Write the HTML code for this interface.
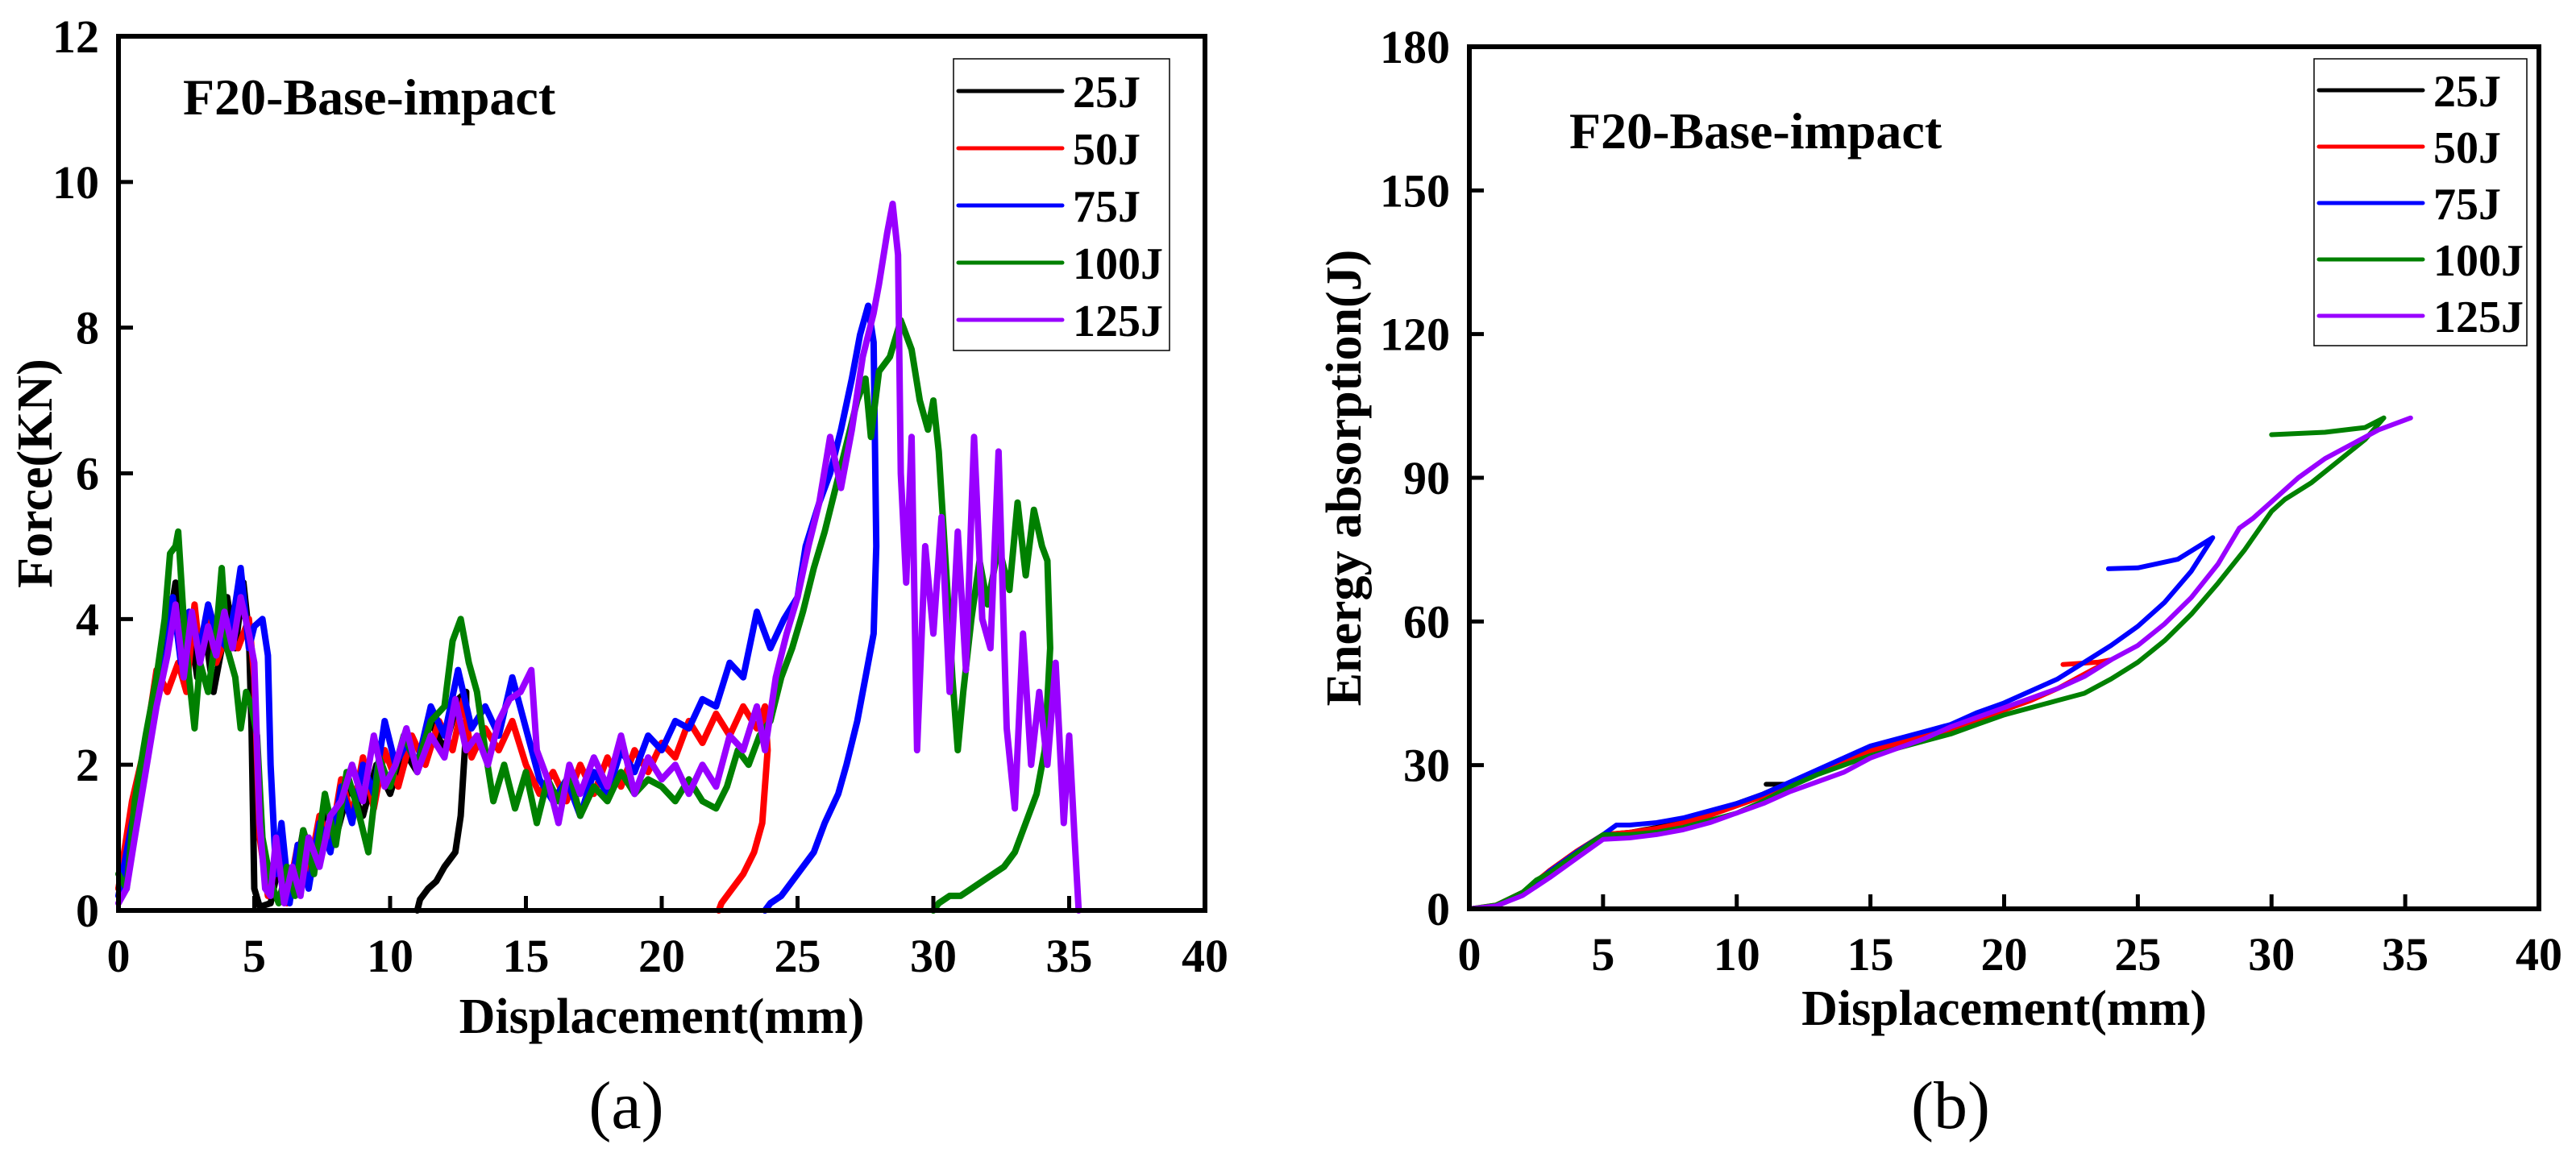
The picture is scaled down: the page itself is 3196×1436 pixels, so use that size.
<!DOCTYPE html>
<html><head><meta charset="utf-8">
<style>
html,body{margin:0;padding:0;background:#fff;}
svg{display:block;}
text{font-family:"Liberation Serif","DejaVu Serif",serif;}
</style></head>
<body>
<svg id="fig" width="3196" height="1436" viewBox="0 0 3196 1436" xmlns="http://www.w3.org/2000/svg">
<g id="pa"></g>
<g id="pb"></g>
</svg>
<script>
const seriesNames = ["25J","50J","75J","100J","125J"];
const seriesColors = ["#000000","#ff0000","#0000ff","#008000","#9900ff"];
const xTicks = [0,5,10,15,20,25,30,35,40];
const forceTicks = [0,2,4,6,8,10,12];
const energyTicks = [0,30,60,90,120,150,180];

const force25 = [[0,0.3],[0.5,1.2],[1,2.2],[1.5,3.2],[1.8,3.8],[2.1,4.5],[2.3,3.6],[2.6,4.0],[2.9,3.2],[3.2,3.8],[3.5,3.0],[3.8,3.6],[4.0,4.3],[4.3,3.6],[4.6,4.5],[4.8,3.8],[4.9,2.5],[5.0,0.3],[5.2,0.05],[5.6,0.1],[6.0,0.8],[6.4,0.2],[6.8,1.1],[7.2,0.6],[7.6,1.4],[8,1.0],[8.5,1.7],[9,1.3],[9.5,2.0],[10,1.6],[10.5,2.2],[11,1.9],[11.5,2.6],[12,2.2],[12.5,2.9],[12.8,3.0],[12.8,2.5],[12.6,1.3],[12.4,0.8],[12.0,0.6],[11.7,0.4],[11.4,0.3],[11.1,0.15],[11.0,0]];
const force50 = [[0,0.3],[0.5,1.5],[1,2.3],[1.4,3.3],[1.8,3.0],[2.2,3.4],[2.5,3.0],[2.8,4.2],[3.0,3.5],[3.3,4.0],[3.6,3.4],[4,3.8],[4.4,3.6],[4.8,4.0],[5.0,3.2],[5.2,1.0],[5.5,0.2],[5.9,0.8],[6.2,0.1],[6.6,0.9],[7,0.5],[7.4,1.3],[7.8,0.9],[8.2,1.8],[8.6,1.3],[9.0,2.1],[9.4,1.4],[9.8,2.2],[10.3,1.7],[10.8,2.4],[11.3,2.0],[11.8,2.6],[12.3,2.2],[12.7,2.9],[13.0,2.1],[13.5,2.5],[14,2.2],[14.5,2.6],[15,2.0],[15.5,1.6],[16,1.9],[16.5,1.5],[17,2.0],[17.5,1.6],[18,2.1],[18.5,1.7],[19,2.2],[19.5,1.9],[20,2.3],[20.5,2.1],[21,2.6],[21.5,2.3],[22,2.7],[22.5,2.4],[23,2.8],[23.5,2.5],[23.8,2.8],[23.9,2.2],[23.7,1.2],[23.4,0.8],[23,0.5],[22.6,0.3],[22.2,0.1],[22.1,0]];
const force75 = [[0,0.2],[0.5,1.2],[1,2.2],[1.5,3.0],[1.8,3.6],[2.0,4.3],[2.3,3.4],[2.6,4.1],[3,3.6],[3.3,4.2],[3.6,3.8],[4,3.6],[4.3,4.2],[4.5,4.7],[4.8,3.6],[5.0,3.9],[5.3,4.0],[5.5,3.5],[5.6,2.0],[5.8,0.5],[6.0,1.2],[6.3,0.1],[6.6,0.9],[7,0.3],[7.4,1.2],[7.8,0.8],[8.2,1.7],[8.6,1.2],[9.0,2.0],[9.4,1.6],[9.8,2.6],[10.2,2.0],[10.6,2.3],[11,2.0],[11.5,2.8],[12,2.4],[12.5,3.3],[13,2.5],[13.5,2.8],[14,2.4],[14.5,3.2],[15,2.5],[15.5,1.8],[16,1.5],[16.5,1.8],[17,1.3],[17.5,1.9],[18,1.6],[18.5,2.2],[19,1.9],[19.5,2.4],[20,2.2],[20.5,2.6],[21,2.5],[21.5,2.9],[22,2.8],[22.5,3.4],[23,3.2],[23.5,4.1],[24,3.6],[24.5,4.0],[25,4.3],[25.3,5.0],[25.8,5.6],[26.2,6.0],[26.6,6.6],[27,7.3],[27.3,7.9],[27.6,8.3],[27.8,7.8],[27.9,5.0],[27.8,3.8],[27.5,3.2],[27.2,2.6],[26.8,2.0],[26.5,1.6],[26,1.2],[25.6,0.8],[25.2,0.6],[24.8,0.4],[24.4,0.2],[24,0.1],[23.8,0]];
const force100 = [[0,0.5],[0.3,0.3],[0.6,1.5],[1,2.4],[1.4,3.2],[1.7,4.0],[1.9,4.9],[2.1,5.0],[2.2,5.2],[2.4,4.0],[2.6,3.2],[2.8,2.5],[3.0,3.4],[3.3,3.0],[3.6,3.8],[3.8,4.7],[4.0,3.6],[4.3,3.2],[4.5,2.5],[4.7,3.0],[4.9,2.8],[5.1,2.4],[5.3,1.0],[5.6,0.4],[5.9,0.1],[6.2,0.6],[6.5,0.2],[6.8,1.1],[7.2,0.5],[7.6,1.6],[8.0,0.9],[8.4,1.9],[8.8,1.4],[9.2,0.8],[9.6,2.1],[10,1.7],[10.5,2.4],[11,2.0],[11.5,2.6],[12,2.8],[12.3,3.7],[12.6,4.0],[12.9,3.4],[13.2,3.0],[13.5,2.2],[13.8,1.5],[14.2,2.0],[14.6,1.4],[15,1.9],[15.4,1.2],[15.8,1.8],[16.2,1.5],[16.6,1.9],[17,1.3],[17.5,1.7],[18,1.5],[18.5,1.9],[19,1.6],[19.5,1.8],[20,1.7],[20.5,1.5],[21,1.8],[21.5,1.5],[22,1.4],[22.4,1.7],[22.8,2.2],[23.2,2.0],[23.6,2.4],[24,2.6],[24.4,3.2],[24.8,3.6],[25.2,4.1],[25.6,4.7],[26,5.2],[26.4,5.8],[26.8,6.4],[27.2,7.0],[27.5,7.3],[27.7,6.5],[28,7.4],[28.4,7.6],[28.8,8.1],[29.2,7.7],[29.5,7.0],[29.8,6.6],[30.0,7.0],[30.2,6.3],[30.5,4.5],[30.7,3.2],[30.9,2.2],[31.1,3.0],[31.4,4.0],[31.7,4.8],[32,4.2],[32.4,5.0],[32.8,4.4],[33.1,5.6],[33.4,4.6],[33.7,5.5],[34,5.0],[34.2,4.8],[34.3,3.6],[34.1,2.2],[33.8,1.6],[33.4,1.2],[33,0.8],[32.6,0.6],[32.2,0.5],[31.8,0.4],[31.4,0.3],[31,0.2],[30.6,0.2],[30.2,0.1],[30,0]];
const force125 = [[0,0.1],[0.3,0.3],[0.6,1.0],[1,1.9],[1.4,2.8],[1.8,3.5],[2.1,4.2],[2.4,3.2],[2.7,4.1],[3.0,3.4],[3.3,3.9],[3.6,3.5],[3.9,4.1],[4.2,3.6],[4.5,4.3],[4.8,3.8],[5.0,3.4],[5.2,1.2],[5.4,0.3],[5.6,0.2],[5.8,1.0],[6.1,0.1],[6.4,0.6],[6.7,0.2],[7.0,1.0],[7.4,0.6],[7.8,1.3],[8.2,1.5],[8.6,2.0],[9,1.5],[9.4,2.4],[9.8,1.7],[10.2,2.0],[10.6,2.5],[11,1.9],[11.5,2.4],[12,2.1],[12.4,2.9],[12.8,2.2],[13.2,2.4],[13.6,2.0],[14,2.6],[14.4,2.9],[14.8,3.0],[15.2,3.3],[15.4,2.2],[15.8,1.8],[16.2,1.2],[16.6,2.0],[17,1.6],[17.5,2.1],[18,1.7],[18.5,2.4],[19,1.6],[19.5,2.1],[20,1.8],[20.5,2.0],[21,1.6],[21.5,2.0],[22,1.7],[22.5,2.4],[23,2.2],[23.5,2.8],[23.8,2.2],[24.2,3.2],[24.6,3.8],[25,4.3],[25.4,5.0],[25.8,5.6],[26.2,6.5],[26.6,5.8],[27.0,6.6],[27.4,7.6],[27.8,8.2],[28.0,8.6],[28.3,9.3],[28.5,9.7],[28.7,9.0],[28.8,6.0],[29,4.5],[29.2,6.5],[29.4,2.2],[29.7,5.0],[30,3.8],[30.3,5.4],[30.6,3.0],[30.9,5.2],[31.2,3.3],[31.5,6.5],[31.8,4.0],[32.1,3.6],[32.4,6.3],[32.7,2.5],[33,1.4],[33.3,3.8],[33.6,2.0],[33.9,3.0],[34.2,2.0],[34.5,3.4],[34.8,1.2],[35,2.4],[35.2,1.0],[35.35,0]];

const energy25 = [[0,0],[1,0.5],[2,3],[3,8],[4,12],[5,15.5],[6,16],[7,17],[8,18.5],[9,20],[10,22],[11,24],[11.8,26],[11.1,26]];
const energy50 = [[0,0],[1,0.8],[2,3.5],[3,8],[4,12],[5,15.5],[6,16],[7,16.8],[8,18],[9,19.5],[10,21.5],[11,23.5],[12,26],[13,28.5],[14,31],[15,33],[16,34.5],[17,36],[18,37.5],[19,39.5],[20,41.5],[21,43.5],[22,46],[23,49],[24,52],[23.5,51.5],[22.2,51]];
const energy75 = [[0,0],[1,0.6],[2,3.2],[3,7.8],[4,11.8],[5,15.5],[5.5,17.5],[6,17.5],[7,18],[8,19],[9,20.5],[10,22],[11,24],[12,26.5],[13,29],[14,31.5],[15,34],[16,35.5],[17,37],[18,38.5],[19,41],[20,43],[21,45.5],[22,48],[23,51.5],[24,55],[25,59],[26,64],[27,70.5],[27.8,77.5],[26.5,73],[25,71.2],[23.9,71]];
const energy100 = [[0,0],[1,0.8],[2,3.5],[2.5,6],[3,7.5],[4,11.5],[5,15.5],[6,15.5],[7,16],[8,17],[9,18.5],[10,20],[11,22.5],[12,25.5],[13,28],[14,30],[15,32],[16,33.5],[17,35],[18,36.5],[19,38.5],[20,40.5],[21,42],[22,43.5],[23,45],[24,48],[25,51.5],[26,56],[27,61.5],[28,68],[29,75],[30,83],[30.5,85.5],[31.5,89],[32.5,93.5],[33.5,98],[34.2,102.5],[33.5,100.5],[32,99.5],[30,99]];
const energy125 = [[0,0],[1,0.6],[2,2.8],[3,6.5],[4,10.5],[5,14.5],[6,14.8],[7,15.5],[8,16.5],[9,18],[10,20],[11,22],[12,24.5],[13,26.5],[14,28.5],[15,31.5],[16,33.5],[17,35.5],[18,38],[19,40],[20,42],[21,44],[22,46],[23,48.5],[24,52],[25,55],[26,59.5],[27,65],[28,72],[28.8,79.5],[29.3,81.5],[30,85],[31,90],[32,94],[33,97],[34,100],[35.2,102.5]];

const forceSeries = [force25, force50, force75, force100, force125];
const energySeries = [energy25, energy50, energy75, energy100, energy125];

const NS = "http://www.w3.org/2000/svg";
function mk(parent, tag, attrs, txt){
  const e = document.createElementNS(NS, tag);
  for (const k in attrs) e.setAttribute(k, attrs[k]);
  if (txt !== undefined) e.textContent = txt;
  parent.appendChild(e);
  return e;
}

function drawChart(g, cfg){
  const sx = v => cfg.x0 + (v - 0) / 40 * (cfg.x1 - cfg.x0);
  const sy = v => cfg.y0 - v / cfg.ymax * (cfg.y0 - cfg.y1);
  cfg.series.forEach((s, i) => {
    const d = s.map((p, j) => (j ? "L" : "M") + sx(p[0]).toFixed(1) + " " + sy(p[1]).toFixed(1)).join(" ");
    const path = mk(g, "path", {d: d, fill: "none", stroke: seriesColors[i], "stroke-width": cfg.sw, "stroke-linejoin": "round", "stroke-linecap": "round"});
    
    
  });
  const fr = mk(g, "rect", {x: cfg.x0, y: cfg.y1, width: cfg.x1 - cfg.x0, height: cfg.y0 - cfg.y1, fill: "none", stroke: "#000", "stroke-width": 6});
  
  
  xTicks.forEach(t => {
    const x = sx(t);
    const tk = mk(g, "line", {x1: x, x2: x, y1: cfg.y0, y2: cfg.y0 - 18, stroke: "#000", "stroke-width": 5});
    
    
    const lb = mk(g, "text", {x: x, y: cfg.y0 + 76, "text-anchor": "middle", "font-size": 58, "font-weight": "bold"}, String(t));
    
    
  });
  cfg.yTicks.forEach(t => {
    const y = sy(t);
    const tk = mk(g, "line", {x1: cfg.x0, x2: cfg.x0 + 18, y1: y, y2: y, stroke: "#000", "stroke-width": 5});
    
    
    const lb = mk(g, "text", {x: cfg.x0 - 24, y: y + 20, "text-anchor": "end", "font-size": 58, "font-weight": "bold"}, String(t));
    
    
  });
  const an = mk(g, "text", {x: cfg.annX, y: cfg.annY, "font-size": 64, "font-weight": "bold"}, "F20-Base-impact");
  
  
  const lg = mk(g, "g", {});
  
  
  const lbx = mk(lg, "rect", {x: cfg.lx, y: cfg.ly, width: cfg.lw, height: cfg.lh, fill: "#fff", stroke: "#000", "stroke-width": 1.5});
  
  
  seriesNames.forEach((n, i) => {
    const yy = cfg.ly + cfg.lrow0 + i * cfg.lstep;
    const ln = mk(lg, "line", {x1: cfg.lx + 6, x2: cfg.lx + 135, y1: yy, y2: yy, stroke: seriesColors[i], "stroke-width": 5, "stroke-linecap": "round"});
    
    
    const tx = mk(lg, "text", {x: cfg.lx + 148, y: yy + 20, "font-size": 56, "font-weight": "bold"}, n);
    
    
  });
  const xt = mk(g, "text", {x: (cfg.x0 + cfg.x1) / 2, y: cfg.xtY, "text-anchor": "middle", "font-size": 62, "font-weight": "bold"}, "Displacement(mm)");
  
  
  const cy = (cfg.y0 + cfg.y1) / 2;
  const yt = mk(g, "text", {x: cfg.ytX, y: cy, "text-anchor": "middle", "font-size": 62, "font-weight": "bold", transform: "rotate(-90 " + cfg.ytX + " " + cy + ")"}, cfg.ytitle);
  
  
  const pl = mk(g, "text", {x: cfg.panelX, y: 1400, "text-anchor": "middle", "font-size": 84}, cfg.panel);
  
  
}

drawChart(document.getElementById("pa"), {
  x0: 147, x1: 1495, y0: 1130, y1: 45, ymax: 12, yTicks: forceTicks, series: forceSeries, sw: 8,
  annX: 227, annY: 142, lx: 1183, ly: 73, lw: 268, lh: 362, lrow0: 40, lstep: 71,
  xtY: 1282, ytX: 64, ytitle: "Force(KN)", panel: "(a)", panelX: 777
});
drawChart(document.getElementById("pb"), {
  x0: 1823, x1: 3150, y0: 1128, y1: 58, ymax: 180, yTicks: energyTicks, series: energySeries, sw: 6,
  annX: 1947, annY: 184, lx: 2871, ly: 73, lw: 264, lh: 356, lrow0: 39, lstep: 70,
  xtY: 1272, ytX: 1688, ytitle: "Energy absorption(J)", panel: "(b)", panelX: 2420
});
</script>
</body></html>
